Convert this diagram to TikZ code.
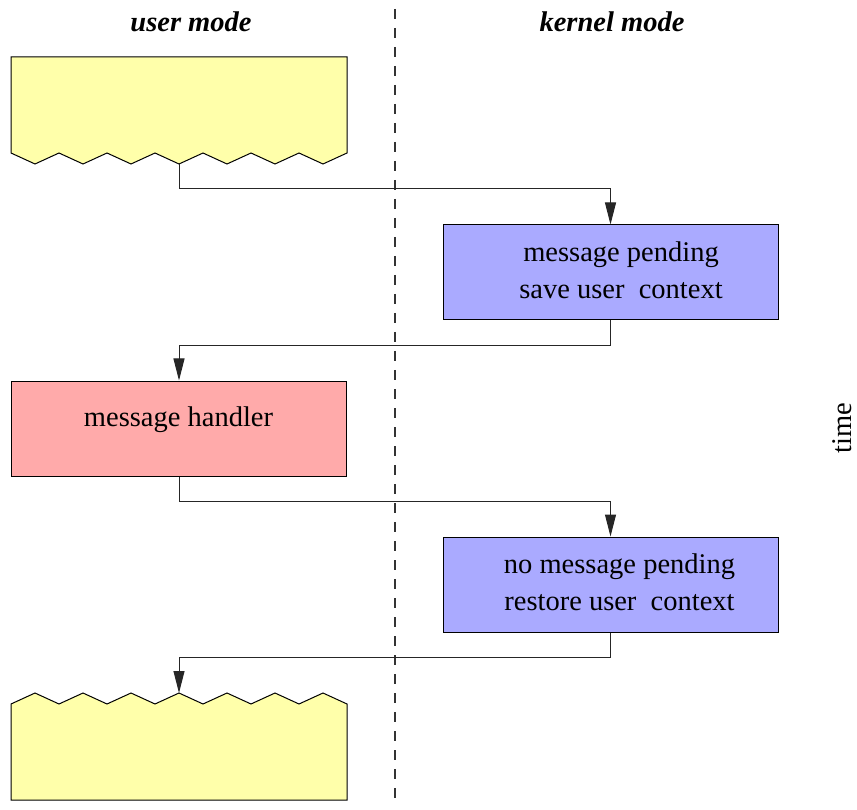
\documentclass[tikz,border=0pt]{standalone}
\usepackage{fontspec}
\setmainfont{Liberation Serif}
\usetikzlibrary{arrows.meta}
\definecolor{uyellow}{HTML}{FFFFAA}
\definecolor{kblue}{HTML}{AAAAFF}
\definecolor{hred}{HTML}{FFAAAA}
\begin{document}
\begin{tikzpicture}[x=1pt,y=1pt,
  txt/.style={font=\fontsize{28.5}{37}\selectfont, align=center, inner sep=0pt},
  hdr/.style={font=\fontsize{28.5}{34}\selectfont\bfseries\itshape, inner sep=0pt},
  boxst/.style={draw=black, line width=1pt, minimum width=335pt, minimum height=95pt, inner sep=0pt},
  kbox/.style={boxst, fill=kblue},
  hbox/.style={boxst, fill=hred},
  ushape/.style={draw=black, line width=1pt, fill=uyellow, line join=miter},
  conn/.style={draw=black!85, line width=1pt, -{Triangle[length=22pt,width=11pt]}}
]
\useasboundingbox (0,0) rectangle (857,-810);

% divider
\draw[black!80, line width=1.3pt, dash pattern=on 10pt off 9pt] (395,-9) -- (395,-806);

% headers
\node[hdr] (hu) at (191,-22) {user mode};
\node[hdr] (hk) at (612,-22) {kernel mode};
\node[txt, rotate=90, anchor=south] (time) at (852,-428) {time};

% top user-mode block (zigzag bottom)
\draw[ushape] (11,-57) -- (347,-57) -- (347,-153)
  \foreach \k in {6,5,...,0} { -- ({35+48*\k},-164) -- ({11+48*\k},-153) } -- cycle;
\coordinate (topout) at (179,-164);

% kernel boxes
\node[kbox] (p1) at (610.5,-272.5) {};
\node[txt] (p1t) at (621,-270) {message pending\\save user\ \ context};

\node[hbox] (h) at (179,-428.5) {};
\node[txt] (ht) at (178.5,-420) {message handler};

\node[kbox] (p2) at (610.5,-584.5) {};
\node[txt] (p2t) at (619.5,-582) {no message pending\\restore user\ \ context};

% bottom user-mode block (zigzag top)
\draw[ushape] (11,-800) -- (11,-704)
  \foreach \k in {0,...,6} { -- ({35+48*\k},-693) -- ({59+48*\k},-704) } -- (347,-800) -- cycle;
\coordinate (botin) at (179,-693);

% connectors
\draw[conn] (topout) -- ++(0,-25) -| (p1.north);
\draw[conn] (p1.south) -- ++(0,-25) -| (h.north);
\draw[conn] (h.south) -- ++(0,-25) -| (p2.north);
\draw[conn] (p2.south) -- ++(0,-25) -| (botin);
\end{tikzpicture}
\end{document}
